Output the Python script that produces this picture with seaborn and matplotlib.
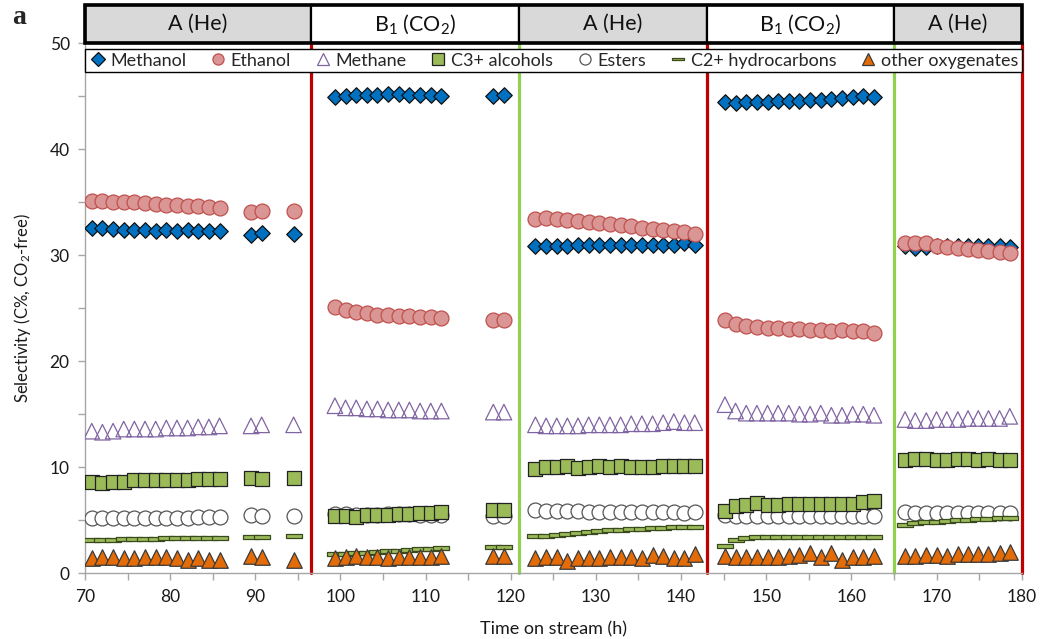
import numpy as np
import pandas as pd
import matplotlib
matplotlib.use("Agg")
import matplotlib.pyplot as plt
import seaborn as sns
from matplotlib.lines import Line2D
from matplotlib.patches import Rectangle
from matplotlib.path import Path
import matplotlib.transforms as mtransforms
from matplotlib.ticker import MultipleLocator

sns.set_theme(style="white")
plt.rcParams['font.family'] = ['Lato', 'DejaVu Sans']
plt.rcParams['mathtext.default'] = 'regular'

# ---------------- data ----------------
t_seg1 = [70.8, 72.05, 73.3, 74.55, 75.8, 77.05, 78.3, 79.55, 80.8, 82.05, 83.3, 84.55, 85.8, 89.5, 90.75, 94.5]
t_seg2 = [99.35, 100.6, 101.85, 103.1, 104.35, 105.6, 106.85, 108.1, 109.35, 110.6, 111.85, 117.95, 119.2]
t_seg3 = [122.9, 124.15, 125.4, 126.65, 127.9, 129.15, 130.4, 131.65, 132.9, 134.15, 135.4, 136.65, 137.9, 139.15, 140.4, 141.6]
t_seg4 = [145.15, 146.4, 147.65, 148.9, 150.15, 151.4, 152.65, 153.9, 155.15, 156.4, 157.65, 158.9, 160.15, 161.4, 162.65]
t_seg5 = [166.3, 167.5, 168.8, 170.0, 171.2, 172.5, 173.7, 174.9, 176.1, 177.4, 178.6]
time_h = t_seg1 + t_seg2 + t_seg3 + t_seg4 + t_seg5

methanol = ([32.6, 32.6, 32.5, 32.4, 32.4, 32.4, 32.3, 32.4, 32.3, 32.4, 32.3, 32.3, 32.3, 31.9, 32.1, 32.0]
            + [44.9, 45.0, 45.1, 45.1, 45.1, 45.2, 45.2, 45.1, 45.1, 45.1, 45.0, 45.0, 45.1]
            + [30.9, 30.9, 30.9, 30.9, 31.0, 31.0, 31.0, 31.0, 31.0, 31.0, 31.0, 31.0, 31.0, 31.0, 31.1, 31.0]
            + [44.4, 44.3, 44.4, 44.4, 44.4, 44.5, 44.5, 44.5, 44.6, 44.6, 44.7, 44.8, 44.9, 45.0, 44.9]
            + [30.9, 30.7, 30.8, 30.9, 30.9, 30.9, 30.9, 30.9, 30.9, 30.9, 30.8])
ethanol = ([35.1, 35.1, 35.0, 35.0, 35.0, 34.9, 34.8, 34.7, 34.7, 34.6, 34.6, 34.5, 34.4, 34.1, 34.2, 34.2]
           + [25.1, 24.8, 24.6, 24.5, 24.4, 24.4, 24.3, 24.3, 24.2, 24.2, 24.1, 23.9, 23.9]
           + [33.4, 33.5, 33.4, 33.3, 33.2, 33.1, 33.0, 32.9, 32.8, 32.7, 32.6, 32.5, 32.4, 32.3, 32.2, 32.0]
           + [23.9, 23.5, 23.3, 23.2, 23.1, 23.1, 23.0, 23.0, 22.9, 22.9, 22.8, 22.9, 22.8, 22.8, 22.7]
           + [31.1, 31.1, 31.1, 30.9, 30.8, 30.7, 30.6, 30.5, 30.4, 30.3, 30.2])
methane = ([13.4, 13.3, 13.4, 13.6, 13.6, 13.6, 13.6, 13.7, 13.7, 13.7, 13.8, 13.8, 13.9, 13.9, 14.0, 14.0]
           + [15.8, 15.6, 15.6, 15.5, 15.5, 15.4, 15.4, 15.4, 15.3, 15.3, 15.3, 15.2, 15.2]
           + [14.0, 13.9, 13.9, 13.9, 13.9, 14.0, 14.0, 14.0, 14.0, 14.1, 14.1, 14.1, 14.2, 14.3, 14.2, 14.2]
           + [15.9, 15.3, 15.1, 15.1, 15.1, 15.1, 15.1, 15.0, 15.0, 15.1, 14.9, 14.9, 15.0, 15.0, 14.9]
           + [14.5, 14.4, 14.4, 14.5, 14.5, 14.5, 14.6, 14.6, 14.6, 14.6, 14.8])
c3_alcohols = ([8.6, 8.5, 8.6, 8.6, 8.8, 8.8, 8.8, 8.8, 8.8, 8.8, 8.9, 8.9, 8.9, 9.0, 8.9, 9.0]
               + [5.4, 5.4, 5.3, 5.5, 5.5, 5.5, 5.6, 5.6, 5.7, 5.7, 5.8, 6.0, 6.0]
               + [9.8, 10.0, 10.0, 10.1, 9.9, 10.0, 10.1, 10.0, 10.1, 10.0, 10.0, 10.0, 10.1, 10.1, 10.1, 10.1]
               + [5.9, 6.3, 6.4, 6.6, 6.4, 6.4, 6.5, 6.5, 6.5, 6.5, 6.5, 6.5, 6.5, 6.7, 6.8]
               + [10.7, 10.8, 10.8, 10.7, 10.7, 10.8, 10.8, 10.7, 10.8, 10.7, 10.7])
esters = ([5.2, 5.2, 5.2, 5.2, 5.2, 5.2, 5.2, 5.2, 5.2, 5.2, 5.3, 5.3, 5.3, 5.5, 5.4, 5.4]
          + [5.6, 5.6, 5.5, 5.5, 5.5, 5.6, 5.6, 5.6, 5.5, 5.5, 5.5, 5.4, 5.4]
          + [6.0, 5.9, 5.9, 5.9, 5.9, 5.8, 5.8, 5.8, 5.8, 5.8, 5.8, 5.8, 5.8, 5.8, 5.7, 5.8]
          + [5.5, 5.4, 5.4, 5.4, 5.4, 5.4, 5.4, 5.4, 5.4, 5.4, 5.4, 5.4, 5.4, 5.4, 5.4]
          + [5.8, 5.7, 5.7, 5.7, 5.7, 5.7, 5.7, 5.7, 5.7, 5.7, 5.7])
c2_hydrocarbons = ([3.1, 3.1, 3.15, 3.2, 3.2, 3.2, 3.2, 3.3, 3.3, 3.3, 3.35, 3.35, 3.35, 3.4, 3.4, 3.5]
                   + [1.8, 1.85, 1.9, 1.95, 2.0, 2.1, 2.15, 2.2, 2.25, 2.3, 2.35, 2.5, 2.5]
                   + [3.5, 3.55, 3.65, 3.75, 3.8, 3.9, 3.95, 4.05, 4.1, 4.15, 4.2, 4.25, 4.3, 4.35, 4.4, 4.4]
                   + [2.6, 3.1, 3.3, 3.4, 3.4, 3.4, 3.4, 3.4, 3.4, 3.4, 3.4, 3.4, 3.4, 3.4, 3.4]
                   + [4.6, 4.7, 4.8, 4.85, 4.9, 5.0, 5.05, 5.1, 5.15, 5.2, 5.25])
other_oxygenates = ([1.4, 1.5, 1.5, 1.4, 1.4, 1.5, 1.5, 1.5, 1.4, 1.3, 1.4, 1.3, 1.3, 1.6, 1.5, 1.3]
                    + [1.4, 1.5, 1.6, 1.5, 1.5, 1.4, 1.5, 1.5, 1.5, 1.5, 1.6, 1.6, 1.6]
                    + [1.4, 1.5, 1.5, 1.2, 1.4, 1.4, 1.4, 1.5, 1.5, 1.5, 1.4, 1.7, 1.6, 1.4, 1.4, 1.8]
                    + [1.6, 1.5, 1.5, 1.5, 1.5, 1.5, 1.6, 1.7, 1.9, 1.5, 1.9, 1.3, 1.5, 1.5, 1.6]
                    + [1.6, 1.6, 1.7, 1.7, 1.6, 1.8, 1.8, 1.8, 1.8, 1.9, 2.0])

series_names = ["Methanol", "Ethanol", "Methane", "C3+ alcohols", "Esters",
                "C2+ hydrocarbons", "other oxygenates"]
condition_labels = ["A (He)", "B$_1$ (CO$_2$)", "A (He)", "B$_1$ (CO$_2$)", "A (He)"]
condition_bounds = [70, 96.5, 121, 143, 165, 180]
x_ticks = [70, 80, 90, 100, 110, 120, 130, 140, 150, 160, 170, 180]
y_ticks = [0, 10, 20, 30, 40, 50]

# ---------------- styles ----------------
bar_marker = Path([(-1, -0.22), (1, -0.22), (1, 0.22), (-1, 0.22), (-1, -0.22)],
                  [Path.MOVETO, Path.LINETO, Path.LINETO, Path.LINETO, Path.CLOSEPOLY])
styles = {
    "Methanol": dict(marker="D", s=62, fc="#0070C0", ec="#111111", z=3),
    "Ethanol": dict(marker="o", s=115, fc="#DA9694", ec="#C0504D", z=4),
    "Methane": dict(marker="^", s=125, fc="none", ec="#8064A2", z=3),
    "C3+ alcohols": dict(marker="s", s=105, fc="#9BBB59", ec="#222222", z=4),
    "Esters": dict(marker="o", s=115, fc="white", ec="#555555", z=3),
    "C2+ hydrocarbons": dict(marker=bar_marker, s=125, fc="#9BBB59", ec="#3B4A1E", z=3),
    "other oxygenates": dict(marker="^", s=125, fc="#E36C09", ec="#3A3A3A", z=4),
}
values = [methanol, ethanol, methane, c3_alcohols, esters, c2_hydrocarbons, other_oxygenates]

fig = plt.figure(figsize=(10.4, 6.39), dpi=100)
ax = fig.add_axes([0.0817, 0.1028, 0.9824 - 0.0817, 0.9327 - 0.1028])

for name, vals in zip(series_names, values):
    st = styles[name]
    df = pd.DataFrame({"t": time_h, "v": vals})
    sns.scatterplot(data=df, x="t", y="v", ax=ax, marker=st["marker"], s=st["s"],
                    facecolor=st["fc"], edgecolor=st["ec"], linewidth=0.9,
                    zorder=st["z"], legend=False)

# condition boundary lines
line_colors = ["#C00000", "#92D050", "#C00000", "#92D050", "#C00000"]
for xb, c in zip(condition_bounds[1:], line_colors):
    ax.axvline(xb, color=c, lw=2.3, zorder=2, clip_on=False)

ax.set_xlim(70, 180)
ax.set_ylim(0, 50)
ax.set_xticks(x_ticks)
ax.set_yticks(y_ticks)
ax.xaxis.set_minor_locator(MultipleLocator(5))
ax.yaxis.set_minor_locator(MultipleLocator(5))
ax.tick_params(which="both", direction="out", length=5, width=1, color="#A6A6A6",
               bottom=True, left=True, top=False, right=False)
ax.tick_params(which="major", labelsize=12.5, labelcolor="#1a1a1a", pad=6)
for sp in ["top", "right"]:
    ax.spines[sp].set_visible(False)
for sp in ["left", "bottom"]:
    ax.spines[sp].set_color("#A6A6A6")
    ax.spines[sp].set_linewidth(1.0)

ax.set_xlabel("Time on stream (h)", fontsize=13, color="#1a1a1a", labelpad=12)
ax.set_ylabel("Selectivity (C%, CO$_2$-free)", fontsize=12, color="#1a1a1a", labelpad=12)

# header with conditions
trans = mtransforms.blended_transform_factory(ax.transData, ax.transAxes)
h_top = 0.0717
cell_colors = ["#D9D9D9", "white", "#D9D9D9", "white", "#D9D9D9"]
for i, lab in enumerate(condition_labels):
    x0, x1 = condition_bounds[i], condition_bounds[i + 1]
    ax.add_patch(Rectangle((x0, 1.0), x1 - x0, h_top, transform=trans, clip_on=False,
                           facecolor=cell_colors[i], edgecolor="black", lw=1.6, zorder=6))
    ax.text((x0 + x1) / 2, 1.0 + h_top / 2, lab, transform=trans, ha="center", va="center",
            fontsize=15.5, color="#111111", zorder=7)
ax.add_patch(Rectangle((condition_bounds[0], 1.0), condition_bounds[-1] - condition_bounds[0], h_top,
                       transform=trans, clip_on=False, facecolor="none", edgecolor="black",
                       lw=2.6, zorder=8))

# legend
handles = []
for name in series_names:
    st = styles[name]
    ms = {"D": 7, "o": 8, "^": 8, "s": 8}.get(st["marker"] if isinstance(st["marker"], str) else "bar", 9)
    handles.append(Line2D([], [], linestyle="none", marker=st["marker"], markersize=ms,
                          markerfacecolor=st["fc"], markeredgecolor=st["ec"], markeredgewidth=0.9))
leg = ax.legend(handles, series_names, loc="lower left", bbox_to_anchor=(0, 0.945, 1, 0.055),
                mode="expand", ncol=7, borderaxespad=0, fontsize=13, frameon=True,
                fancybox=False, handletextpad=0.2, columnspacing=0.5, handlelength=1.0,
                borderpad=0.2)
leg.get_frame().set_edgecolor("black")
leg.get_frame().set_linewidth(1.0)
leg.get_frame().set_facecolor("white")
leg.get_frame().set_alpha(1)
leg.set_zorder(5)

fig.text(0.018, 0.972, "a", fontsize=20, fontweight="bold", family="Liberation Serif",
         ha="center", va="center")

fig.savefig("out.png", dpi=100)
